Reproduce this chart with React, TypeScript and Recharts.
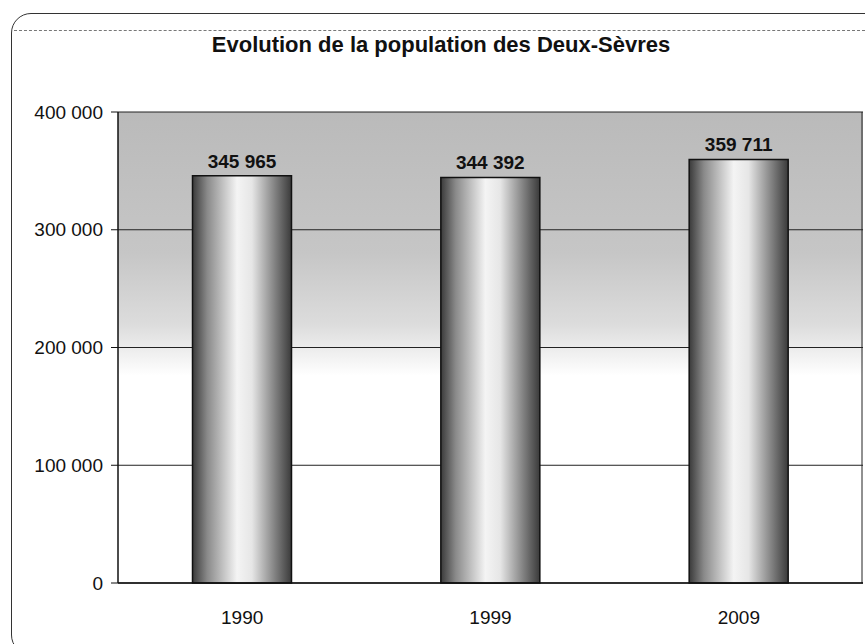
import React from 'react';
import {
  BarChart,
  Bar,
  XAxis,
  YAxis,
  CartesianGrid,
  LabelList,
} from 'recharts';

const years = ['1990', '1999', '2009'];
const population = [345965, 344392, 359711];
const yTicks = [0, 100000, 200000, 300000, 400000];

const fmt = (v: number) => String(v).replace(/\B(?=(\d{3})+(?!\d))/g, ' ');

const chartData = years.map((y, i) => ({ year: y, pop: population[i] }));

const font = '"Liberation Sans", Arial, sans-serif';

const App: React.FC = () => {
  return (
    <div style={{ position: 'absolute', left: 0, top: 0, width: 865, height: 644, background: '#fff', fontFamily: font, overflow: 'hidden' }}>
      {/* scanned frame */}
      <div
        style={{
          position: 'absolute',
          left: 11,
          top: 13,
          width: 900,
          height: 640,
          border: '1px solid #333',
          borderRadius: 20,
        }}
      />
      {/* faint dashed rule under the frame top */}
      <div
        style={{
          position: 'absolute',
          left: 14,
          top: 30,
          width: 851,
          borderTop: '1px dashed #777',
        }}
      />
      <div
        style={{
          position: 'absolute',
          top: 32,
          left: 0,
          width: 882,
          textAlign: 'center',
          fontSize: 22,
          fontWeight: 'bold',
          color: '#111',
        }}
      >
        Evolution de la population des Deux-Sèvres
      </div>
      <div style={{ position: 'absolute', left: 0, top: 0 }}>
        <BarChart
          width={865}
          height={644}
          data={chartData}
          margin={{ top: 112, right: 2, bottom: 0, left: 0 }}
          barCategoryGap="30%"
        >
          <defs>
            <linearGradient id="bg" x1="0" y1="0" x2="0" y2="1">
              <stop offset="0" stopColor="#bababa" />
              <stop offset="0.3" stopColor="#c6c6c6" />
              <stop offset="0.45" stopColor="#dcdcdc" />
              <stop offset="0.52" stopColor="#f2f2f2" />
              <stop offset="0.56" stopColor="#ffffff" />
              <stop offset="1" stopColor="#ffffff" />
            </linearGradient>
            <linearGradient id="cyl" x1="0" y1="0" x2="1" y2="0">
              <stop offset="0" stopColor="#3a3a3a" />
              <stop offset="0.15" stopColor="#8a8a8a" />
              <stop offset="0.45" stopColor="#f4f4f4" />
              <stop offset="0.6" stopColor="#e6e6e6" />
              <stop offset="0.85" stopColor="#7a7a7a" />
              <stop offset="1" stopColor="#3a3a3a" />
            </linearGradient>
          </defs>
          <CartesianGrid
            fill="url(#bg)"
            fillOpacity={1}
            stroke="#222"
            strokeWidth={1}
            verticalPoints={[862]}
          />
          <XAxis
            dataKey="year"
            tickLine={false}
            axisLine={{ stroke: '#111', strokeWidth: 1.5 }}
            tickMargin={22}
            height={61}
            tick={{ fill: '#111', fontSize: 19, fontFamily: font }}
          />
          <YAxis
            domain={[0, 400000]}
            ticks={yTicks}
            tickFormatter={fmt}
            width={118}
            tickSize={7}
            tickMargin={8}
            interval={0}
            axisLine={{ stroke: '#111', strokeWidth: 1.5 }}
            tickLine={{ stroke: '#111' }}
            tick={{ fill: '#111', fontSize: 19, fontFamily: font }}
          />
          <Bar dataKey="pop" fill="url(#cyl)" stroke="#111" strokeWidth={1.5} isAnimationActive={false}>
            <LabelList
              dataKey="pop"
              position="top"
              offset={8}
              formatter={(v: any) => fmt(Number(v))}
              style={{ fill: '#111', fontSize: 19, fontWeight: 'bold', fontFamily: font }}
            />
          </Bar>
        </BarChart>
      </div>
    </div>
  );
};

export default App;
